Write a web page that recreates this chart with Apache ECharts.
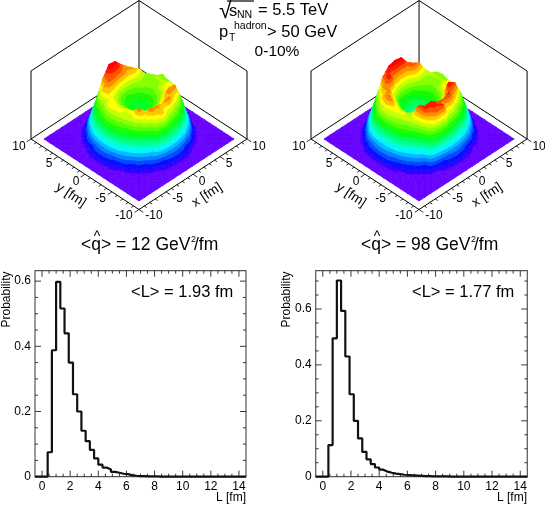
<!DOCTYPE html>
<html><head><meta charset="utf-8">
<style>html,body{margin:0;padding:0;background:#fff}#c{width:545px;height:507px}</style>
<script src="https://cdn.jsdelivr.net/npm/echarts@6/dist/echarts.min.js"></script>
</head><body><div id="c"></div>
<script>
const FONT='"Liberation Sans",Helvetica,Arial,sans-serif';
const gridNodes=[-8.8,-7.7,-6.6,-5.5,-4.4,-3.3,-2.2,-1.1,0,1.1,2.2,3.3,4.4,5.5,6.6,7.7,8.8];
const surfaceLeft=[
[0,0,0,0,0,0,0,0,0,0,0,0,0,0,0,0,0],
[0,0,0,0,0,0,.002,.007,.01,.007,.002,0,0,0,0,0,0],
[0,0,0,0,.003,.03,.10,.185,.21,.185,.10,.03,.003,0,0,0,0],
[0,0,0,.007,.08,.27,.60,.72,.60,.52,.42,.27,.08,.007,0,0,0],
[0,0,.003,.08,.33,.60,.78,.76,.74,.78,.68,.56,.33,.08,.003,0,0],
[0,0,.03,.27,.54,.78,.68,.64,.63,.68,.79,.78,.56,.27,.03,0,0],
[0,.002,.10,.42,.62,.68,.62,.56,.53,.56,.64,.70,.67,.38,.10,.002,0],
[0,.007,.185,.51,.66,.66,.56,.49,.47,.49,.56,.66,.66,.56,.185,.007,0],
[0,.01,.21,.54,.68,.64,.53,.47,.46,.47,.53,.60,.62,.56,.21,.01,0],
[0,.007,.185,.51,.70,.66,.56,.49,.47,.49,.56,.60,.62,.60,.185,.007,0],
[0,.002,.10,.42,.60,.70,.66,.56,.53,.56,.62,.60,.60,.52,.10,.002,0],
[0,0,.03,.27,.54,.74,.82,.80,.78,.74,.75,.68,.56,.28,.03,0,0],
[0,0,.003,.08,.33,.54,.78,.92,.90,.80,.72,.54,.33,.08,.003,0,0],
[0,0,0,.007,.08,.27,.42,.55,.60,.51,.42,.27,.08,.007,0,0,0],
[0,0,0,0,.003,.03,.10,.185,.21,.185,.10,.03,.003,0,0,0,0],
[0,0,0,0,0,0,.002,.007,.01,.007,.002,0,0,0,0,0,0],
[0,0,0,0,0,0,0,0,0,0,0,0,0,0,0,0,0]];
const surfaceRight=[
[0,0,0,0,0,0,0,0,0,0,0,0,0,0,0,0,0],
[0,0,0,0,0,0,.004,.01,.012,.01,.004,0,0,0,0,0,0],
[0,0,0,0,.006,.04,.11,.19,.22,.19,.11,.04,.006,0,0,0,0],
[0,0,0,.02,.12,.62,.82,.84,.62,.55,.44,.30,.12,.02,0,0,0],
[0,0,.01,.14,.40,.85,.88,.82,.80,.85,.72,.58,.38,.14,.01,0,0],
[0,0,.05,.32,.58,.83,.72,.62,.60,.66,.88,.82,.60,.34,.06,0,0],
[0,.005,.16,.50,.64,.66,.56,.46,.43,.48,.60,.74,.70,.50,.18,.005,0],
[0,.012,.24,.56,.68,.60,.47,.40,.38,.41,.52,.68,.68,.56,.26,.012,0],
[0,.018,.27,.60,.70,.60,.46,.38,.37,.39,.48,.58,.62,.56,.28,.018,0],
[0,.012,.24,.60,.80,.66,.48,.40,.39,.42,.52,.58,.62,.60,.24,.01,0],
[0,.005,.18,.55,.74,.77,.60,.48,.46,.50,.60,.60,.62,.58,.12,.003,0],
[0,0,.06,.34,.58,.75,.88,.74,.70,.72,.82,.77,.62,.34,.04,0,0],
[0,0,.006,.12,.36,.58,.80,.90,.92,.90,.78,.58,.36,.10,.004,0,0],
[0,0,0,.01,.10,.30,.46,.56,.62,.56,.44,.28,.09,.008,0,0,0],
[0,0,0,0,.005,.04,.11,.19,.22,.19,.10,.03,.003,0,0,0,0],
[0,0,0,0,0,0,.003,.008,.012,.008,.003,0,0,0,0,0,0],
[0,0,0,0,0,0,0,0,0,0,0,0,0,0,0,0,0]];
const histLeft=[0,0,0,.075,.388,.598,.516,.44,.35,.253,.20,.141,.109,.082,.056,.037,.028,.022,.015,.012,.009,.008,.005,.003,.002,.0015,.001,.001,.001,.0005,.0005,.0005,.0003,.0003,.0002,.0002,.0001,.0001,.0001,.0001,0,0,0,0,0,0,0,0,0,0];
const histRight=[0,0,0,.113,.495,.702,.593,.43,.295,.20,.137,.089,.062,.045,.033,.025,.018,.014,.011,.009,.007,.006,.005,.004,.003,.002,.002,.0015,.001,.001,.001,.0005,.0005,.0004,.0003,.0002,.0002,.0001,.0001,.0001,0,0,0,0,0,0,0,0,0,0];
const histXLabels=[0,2,4,6,8,10,12,14];
const histYLabels=[0,0.2,0.4,0.6];
const boxTicks=[-10,-5,0,5,10];
const boxLabelShiftX=[15,11.5,9,9,12];
const boxLabelShiftY=[6.5,7,7,7.5,8];
const BOX_H=0.9645, SURF_K=0.975, DZ=0.044, NB=20;
const color=i=>`hsl(${Math.max(0,264-13.6*i)},100%,50%)`;
const P=(x,y,z,k)=>[(x-y)/20,(x+y+20)/20+z*k];

function clip(poly,lo,hi){
  const cut=(pts,f)=>{const o=[];for(let i=0;i<pts.length;i++){const a=pts[i],b=pts[(i+1)%pts.length],fa=f(a),fb=f(b);
    if(fa>=0)o.push(a);
    if((fa>=0)!==(fb>=0)){const t=fa/(fa-fb);o.push([a[0]+t*(b[0]-a[0]),a[1]+t*(b[1]-a[1]),a[2]+t*(b[2]-a[2])]);}}
    return o;};
  let r=poly;
  if(lo>-1)r=cut(r,p=>p[2]-lo);
  if(r.length&&hi<9)r=cut(r,p=>hi-p[2]);
  return r;
}
function buildPolys(G){
  const out=[];const n=gridNodes.length;
  const cells=[];
  for(let j=0;j<n-1;j++)for(let i=0;i<n-1;i++)cells.push([i,j]);
  cells.sort((a,b)=>(b[0]+b[1])-(a[0]+a[1]));
  for(const [i,j] of cells){
    const v=(ii,jj)=>[gridNodes[ii],gridNodes[jj],G[jj][ii]];
    const a=v(i,j),b=v(i+1,j),c=v(i+1,j+1),d=v(i,j+1);
    const m=[(a[0]+c[0])/2,(a[1]+c[1])/2,(a[2]+b[2]+c[2]+d[2])/4];
    const tris=[[c,d,m],[b,c,m],[d,a,m],[a,b,m]];
    for(const t of tris){
      const zs=t.map(p=>p[2]);const zmin=Math.min(...zs),zmax=Math.max(...zs);
      for(let k=0;k<NB+1;k++){
        const lo=k===0?-2:k*DZ,hi=k>=NB?10:(k+1)*DZ;
        if(zmax<lo||zmin>hi)continue;
        const r=clip(t,lo,hi);
        if(r.length>=3)out.push({k,pts:r.map(p=>P(p[0],p[1],p[2],SURF_K))});
      }
    }
  }
  return out;
}
const series=[],grids=[],xAxes=[],yAxes=[];
function addPanel3D(G,left,width,xmin,xmax){
  const gi=grids.length;
  grids.push({left,top:0.5,width,height:209,show:false});
  xAxes.push({type:'value',gridIndex:gi,min:xmin,max:xmax,show:false});
  yAxes.push({type:'value',gridIndex:gi,min:0,max:2+BOX_H,show:false});
  const ax={xAxisIndex:gi,yAxisIndex:gi,coordinateSystem:'cartesian2d',clip:false,silent:true};
  const line=(c,a,b,w)=>{const p=c(a),q=c(b);return {type:'line',shape:{x1:p[0],y1:p[1],x2:q[0],y2:q[1]},style:{stroke:'#000',lineWidth:w||1}};};
  const B=(x,y,z)=>P(x,y,z,BOX_H);
  const backEdges=[[[10,10,0],[10,10,1]],[[-10,10,0],[10,10,0]],[[10,-10,0],[10,10,0]],[[-10,10,1],[10,10,1]],[[10,-10,1],[10,10,1]],[[-10,10,0],[-10,10,1]],[[10,-10,0],[10,-10,1]]];
  series.push({type:'custom',...ax,data:backEdges.map((e,i)=>[i]),renderItem:(p,api)=>{const e=backEdges[p.dataIndex];return line(api.coord,B(...e[0]),B(...e[1]));}});
  const polys=buildPolys(G);
  series.push({type:'custom',...ax,data:polys.map((e,i)=>[i]),progressive:0,renderItem:(p,api)=>{
    const e=polys[p.dataIndex],c=color(e.k);
    return {type:'polygon',shape:{points:e.pts.map(q=>api.coord(q))},style:{fill:c,stroke:c,lineWidth:0.6}};}});
  const frontEdges=[[[-10,-10,0],[10,-10,0]],[[-10,-10,0],[-10,10,0]]];
  series.push({type:'custom',...ax,data:frontEdges.map((e,i)=>[i]),renderItem:(p,api)=>{const e=frontEdges[p.dataIndex];return line(api.coord,B(...e[0]),B(...e[1]));}});
  const ticks=[];
  for(let v=-10;v<=10;v++){const len=(v%5===0)?0.8:0.45;ticks.push([v,-10,0,v,-10-len,0]);ticks.push([-10,v,0,-10-len,v,0]);}
  series.push({type:'custom',...ax,data:ticks.map((e,i)=>[i]),renderItem:(p,api)=>{const e=ticks[p.dataIndex];return line(api.coord,B(e[0],e[1],0),B(e[3],e[4],0),0.8);}});
  const labels=[];
  boxTicks.forEach((v,i)=>{labels.push({t:String(v),a:[v,-10],dx:boxLabelShiftX[i],dy:boxLabelShiftY[i]});labels.push({t:String(v),a:[-10,v],dx:-boxLabelShiftX[i],dy:boxLabelShiftY[i]});});
  series.push({type:'custom',...ax,data:labels.map((e,i)=>[i]),renderItem:(p,api)=>{const e=labels[p.dataIndex];const c=api.coord(B(e.a[0],e.a[1],0));
    return {type:'text',x:c[0]+e.dx,y:c[1]+e.dy,style:{text:e.t,fill:'#000',font:'12px '+FONT,textAlign:'center',textVerticalAlign:'middle'}};}});
  const names=[{t:'x [fm]',a:[-1.65,-14.25],rot:0.58},{t:'y [fm]',a:[-14.25,-1.65],rot:-0.58}];
  series.push({type:'custom',...ax,data:names.map((e,i)=>[i]),renderItem:(p,api)=>{const e=names[p.dataIndex];const c=api.coord(B(e.a[0],e.a[1],0));
    return {type:'text',x:c[0],y:c[1],rotation:e.rot,style:{text:e.t,fill:'#000',font:'13.5px '+FONT,textAlign:'center',textVerticalAlign:'middle'}};}});
}
function addHist(vals,left,width,ymax){
  const gi=grids.length;
  grids.push({left,top:270.7,width,height:206,show:true,borderColor:'#555',borderWidth:1.2,backgroundColor:'transparent'});
  xAxes.push({type:'value',gridIndex:gi,min:-0.5,max:14.5,axisLine:{show:false},axisTick:{show:false},splitLine:{show:false},
    axisLabel:{show:true,customValues:histXLabels,color:'#000',fontFamily:FONT,fontSize:12,margin:4}});
  yAxes.push({type:'value',gridIndex:gi,min:0,max:ymax,axisLine:{show:false},axisTick:{show:false},splitLine:{show:false},
    axisLabel:{show:true,customValues:histYLabels,color:'#000',fontFamily:FONT,fontSize:12,margin:4,formatter:v=>v===0?'0':v.toFixed(1)}});
  const ticks=[];
  for(let i=0;i<=28;i++){const v=i*0.5,maj=i%4===0;ticks.push({x:v,y0:true,len:maj?6:3});ticks.push({x:v,y0:false,len:maj?6:3});}
  for(let i=0;i*0.05<=ymax;i++){const v=i*0.05,maj=i%4===0;ticks.push({y:v,x0:true,len:maj?6:3});ticks.push({y:v,x0:false,len:maj?6:3});}
  series.push({type:'custom',xAxisIndex:gi,yAxisIndex:gi,coordinateSystem:'cartesian2d',silent:true,clip:false,data:ticks.map((e,i)=>[i]),renderItem:(p,api)=>{
    const e=ticks[p.dataIndex];let a,b;
    if(e.x!==undefined){a=api.coord([e.x,e.y0?0:ymax]);b=[a[0],a[1]+(e.y0?-e.len:e.len)];}
    else{a=api.coord([e.x0?-0.5:14.5,e.y]);b=[a[0]+(e.x0?e.len:-e.len),a[1]];}
    return {type:'line',shape:{x1:a[0],y1:a[1],x2:b[0],y2:b[1]},style:{stroke:'#222',lineWidth:0.9}};}});
  const data=vals.map((v,i)=>[-0.5+0.3*i,v]);data.push([14.5,vals[vals.length-1]]);
  series.push({type:'line',xAxisIndex:gi,yAxisIndex:gi,step:'end',symbol:'none',data,lineStyle:{color:'#111',width:2.2},silent:true,clip:false});
}
addPanel3D(surfaceLeft,31,216,-1,1);
addPanel3D(surfaceRight,311,215,-1,0.99);
addHist(histLeft,35,211,0.632);
addHist(histRight,315.7,211.6,0.737);
const T=(text,x,y,size,opt)=>Object.assign({type:'text',x,y,rotation:(opt&&opt.rot)||0,silent:true,style:{text,fill:'#000',font:size+'px '+FONT,textAlign:(opt&&opt.align)||'left',textVerticalAlign:'middle'}});
const qLabel=(x,val)=>[
  T('<q> = '+val+' GeV',x,245,17.5),
  T('^',x+16,237,14,{align:'center'}),
  T('2',x+110,240,9),
  T('/fm',x+113,245,17.5)
];
const graphic=[
  T('\u221A',219,12,23),
  {type:'line',silent:true,shape:{x1:227,y1:1,x2:254,y2:1},style:{stroke:'#000',lineWidth:1.2}},
  T('s',229,11,16.5),T('NN',237,15,10.5),T('= 5.5 TeV',258,10,16.5),
  T('p',219,32,16.5),T('T',229,38,10.5),T('hadron',234,26,10.5),T('> 50 GeV',267,32,16.5),
  T('0-10%',277,52,15.5,{align:'center'}),
  ...qLabel(81,'12'),
  ...qLabel(361,'98'),
  T('<L> = 1.93 fm',131,292,16.5),T('<L> = 1.77 fm',412,292,16.5),
  T('Probability',7,299.5,12,{align:'center',rot:Math.PI/2}),
  T('Probability',287,299.5,12,{align:'center',rot:Math.PI/2}),
  T('L [fm]',246,497.5,12,{align:'right'}),T('L [fm]',527,497.5,12,{align:'right'})
];
const chart=echarts.init(document.getElementById('c'),null,{width:545,height:507,renderer:'canvas'});
chart.setOption({animation:false,backgroundColor:'#fff',textStyle:{fontFamily:FONT},grid:grids,xAxis:xAxes,yAxis:yAxes,series,graphic});
</script></body></html>
